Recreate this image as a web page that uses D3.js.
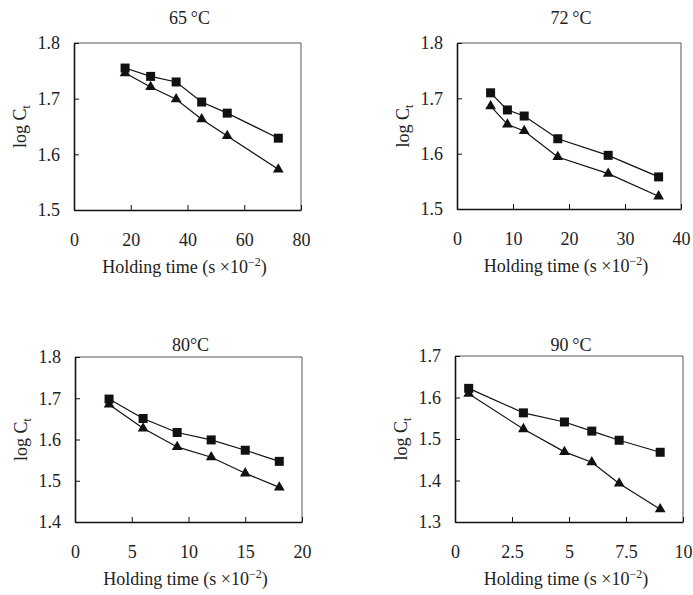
<!DOCTYPE html>
<html>
<head>
<meta charset="utf-8">
<script src="https://cdn.jsdelivr.net/npm/d3@7"></script>
<style>
  body { margin: 0; background: #fff; }
  svg text { font-family: "Liberation Serif", "Times New Roman", serif; fill: #222; }
</style>
</head>
<body>
<div id="chart"></div>
<script>
// data
var titles = ['65\u2009°C', '72\u2009°C', '80°C', '90\u2009°C'];

var time65 = [18, 27, 36, 45, 54, 72];
var sq65 = [1.755, 1.740, 1.730, 1.694, 1.674, 1.629];
var tri65 = [1.746, 1.721, 1.699, 1.663, 1.633, 1.573];

var time72 = [6, 9, 12, 18, 27, 36];
var sq72 = [1.710, 1.679, 1.668, 1.627, 1.597, 1.558];
var tri72 = [1.686, 1.653, 1.641, 1.594, 1.564, 1.523];

var time80 = [3, 6, 9, 12, 15, 18];
var sq80 = [1.698, 1.651, 1.617, 1.599, 1.574, 1.547];
var tri80 = [1.685, 1.627, 1.582, 1.557, 1.518, 1.484];

var time90 = [0.6, 3, 4.8, 6, 7.2, 9];
var sq90 = [1.622, 1.563, 1.541, 1.519, 1.497, 1.468];
var tri90 = [1.609, 1.524, 1.469, 1.444, 1.393, 1.331];

var xTicks = [[0, 20, 40, 60, 80], [0, 10, 20, 30, 40], [0, 5, 10, 15, 20], [0, 2.5, 5, 7.5, 10]];
var yTicks = [[1.5, 1.6, 1.7, 1.8], [1.5, 1.6, 1.7, 1.8], [1.4, 1.5, 1.6, 1.7, 1.8], [1.3, 1.4, 1.5, 1.6, 1.7]];

var width = 693;
var height = 595;
var fs = 18;

var svg = d3.select('#chart')
    .append('svg')
    .attr('width', width)
    .attr('height', height);

// 面板位置
var panels = [
    {left: 74, right: 301, top: 43, bottom: 210, titleY: 24, xt: time65, sq: sq65, tri: tri65},
    {left: 457, right: 681, top: 43, bottom: 209, titleY: 24, xt: time72, sq: sq72, tri: tri72},
    {left: 75, right: 302, top: 357, bottom: 522, titleY: 351, xt: time80, sq: sq80, tri: tri80},
    {left: 455, right: 683, top: 356, bottom: 522, titleY: 351, xt: time90, sq: sq90, tri: tri90}
];

panels.forEach(function (p, i) {
    var xs = xTicks[i], ys = yTicks[i];
    var xScale = d3.scaleLinear()
        .domain([xs[0], xs[xs.length - 1]])
        .range([p.left, p.right]);
    var yScale = d3.scaleLinear()
        .domain([ys[0], ys[ys.length - 1]])
        .range([p.bottom, p.top]);

    var g = svg.append('g');

    // top / right frame
    g.append('path')
        .attr('d', 'M' + p.left + ',' + p.top + 'H' + p.right + 'V' + p.bottom)
        .attr('fill', 'none')
        .attr('stroke', '#555')
        .attr('stroke-width', 1);

    var xAxis = d3.axisBottom(xScale)
        .tickValues(xs)
        .tickSizeInner(-5)
        .tickSizeOuter(0)
        .tickPadding(23)
        .tickFormat(function (d) { return d; });
    var yAxis = d3.axisLeft(yScale)
        .tickValues(ys)
        .tickSizeInner(-5)
        .tickSizeOuter(0)
        .tickPadding(14)
        .tickFormat(d3.format('.1f'));

    var gx = g.append('g')
        .attr('transform', 'translate(0,' + p.bottom + ')')
        .call(xAxis);
    var gy = g.append('g')
        .attr('transform', 'translate(' + p.left + ',0)')
        .call(yAxis);
    [gx, gy].forEach(function (a) {
        a.select('.domain').attr('stroke', '#111').attr('stroke-width', 1.6);
        a.selectAll('.tick line').attr('stroke', '#111');
        a.selectAll('.tick text').attr('font-size', fs).attr('fill', '#222')
            .attr('font-family', '"Liberation Serif", serif');
    });

    var cx = (p.left + p.right) / 2;

    svg.append('text')
        .attr('x', cx + 2)
        .attr('y', p.titleY)
        .attr('text-anchor', 'middle')
        .attr('font-size', fs)
        .text(titles[i]);

    var xt = svg.append('text')
        .attr('x', cx - 3)
        .attr('y', p.bottom + 63)
        .attr('text-anchor', 'middle')
        .attr('font-size', fs);
    xt.append('tspan').text('Holding time (s \u00d710');
    xt.append('tspan').attr('dy', -7).attr('font-size', 12).text('\u22122');
    xt.append('tspan').attr('dy', 7).text(')');

    var yt = svg.append('text')
        .attr('transform', 'translate(' + (p.left - 48) + ',' + ((p.top + p.bottom) / 2) + ') rotate(-90)')
        .attr('text-anchor', 'middle')
        .attr('font-size', fs);
    yt.append('tspan').text('log C');
    yt.append('tspan').attr('dy', 4).attr('font-size', 12).text('t');

    var sqData = p.xt.map(function (t, k) { return [t, p.sq[k]]; });
    var triData = p.xt.map(function (t, k) { return [t, p.tri[k]]; });

    var line = d3.line()
        .x(function (d) { return xScale(d[0]); })
        .y(function (d) { return yScale(d[1]); });

    [triData, sqData].forEach(function (ds) {
        g.append('path')
            .attr('d', line(ds))
            .attr('fill', 'none')
            .attr('stroke', '#111')
            .attr('stroke-width', 1.2);
    });

    g.selectAll('.tri')
        .data(triData)
        .enter()
        .append('path')
        .attr('d', d3.symbol().type(d3.symbolTriangle).size(50))
        .attr('transform', function (d) {
            return 'translate(' + xScale(d[0]) + ',' + yScale(d[1]) + ')';
        })
        .attr('fill', '#111');

    g.selectAll('.sq')
        .data(sqData)
        .enter()
        .append('rect')
        .attr('x', function (d) { return xScale(d[0]) - 4.5; })
        .attr('y', function (d) { return yScale(d[1]) - 4.5; })
        .attr('width', 9)
        .attr('height', 9)
        .attr('fill', '#111');
});
</script>
</body>
</html>
